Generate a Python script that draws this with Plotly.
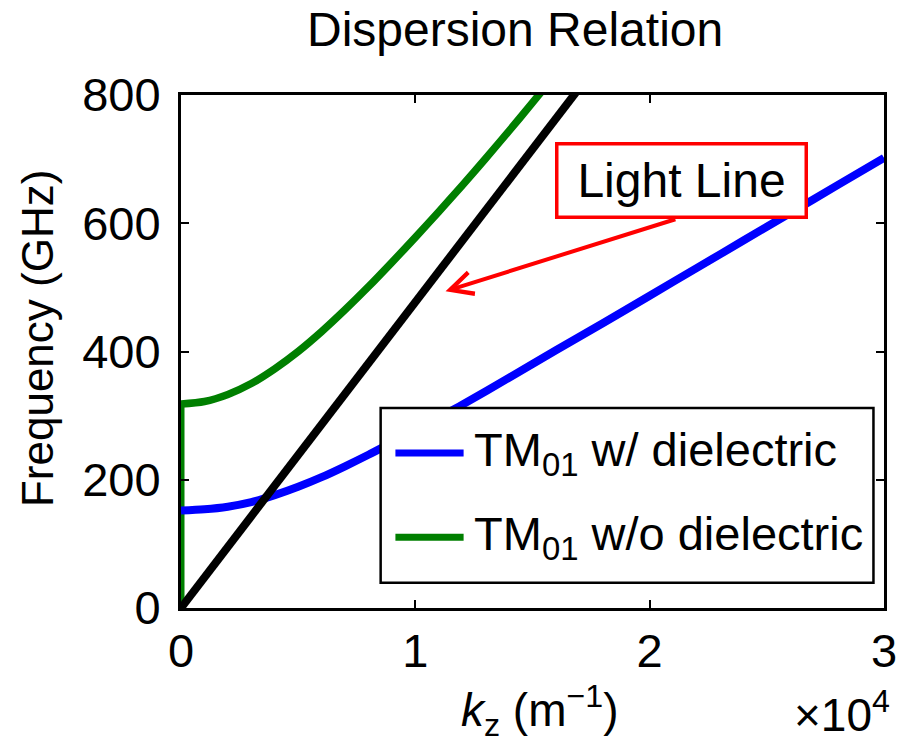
import plotly.graph_objects as go

# Wavenumber k_z in units of 1e4 m^-1, frequency in GHz
k_light = [0.0, 1.70]
f_light = [0.0, 811.0]

k_blue = [0.0, 0.1, 0.2, 0.3, 0.4, 0.5, 0.6, 0.7, 0.8, 0.9, 1.0, 1.1, 1.2,
          1.4, 1.6, 1.8, 2.0, 2.2, 2.4, 2.6, 2.8, 3.0]
f_blue = [152, 154, 158, 165, 176, 189, 204, 221, 239, 258, 277, 297, 317,
          359, 402, 444, 487, 530, 573, 616, 659, 702]

k_green_cutoff = [0.0, 0.0]
f_green_cutoff = [0, 318]
k_green = [0.0, 0.1, 0.2, 0.3, 0.4, 0.5, 0.6, 0.7, 0.8, 0.9, 1.0, 1.1,
           1.2, 1.3, 1.4, 1.5, 1.56]
f_green = [318, 322, 333, 350, 373, 400, 431, 465, 501, 539, 578, 618,
           659, 701, 744, 788, 815]

legend_labels = ["TM<sub>01</sub> w/ dielectric", "TM<sub>01</sub> w/o dielectric"]
x_ticks = [0, 1, 2, 3]
y_ticks = [0, 200, 400, 600, 800]

BLUE = "#0000FF"
GREEN = "#007F00"
FONT = "Liberation Sans, Arial, Helvetica, sans-serif"

fig = go.Figure()
fig.add_trace(go.Scatter(x=k_green_cutoff, y=f_green_cutoff, mode="lines",
                         line=dict(color=GREEN, width=7), showlegend=False))
fig.add_trace(go.Scatter(x=k_green, y=f_green, mode="lines",
                         line=dict(color=GREEN, width=7.5, shape="spline", smoothing=0.8),
                         showlegend=False))
fig.add_trace(go.Scatter(x=k_blue, y=f_blue, mode="lines",
                         line=dict(color=BLUE, width=8, shape="spline", smoothing=0.8),
                         showlegend=False))
fig.add_trace(go.Scatter(x=k_light, y=f_light, mode="lines",
                         line=dict(color="black", width=8), showlegend=False))

axis_common = dict(
    showline=True, linecolor="black", linewidth=3, mirror="allticks",
    ticks="inside", ticklen=8, tickwidth=2, tickcolor="black",
    showgrid=False, zeroline=False,
    tickfont=dict(family=FONT, size=47, color="black"),
)
fig.update_xaxes(range=[0, 3], tickvals=x_ticks, ticktext=[str(v) for v in x_ticks],
                 **axis_common)
fig.update_yaxes(range=[0, 800], tickvals=y_ticks, ticktext=[str(v) for v in y_ticks],
                 ticklabelstandoff=8, **axis_common)

# Hand-built legend box with line samples
fig.add_shape(type="rect", xref="paper", yref="paper", x0=0.284, x1=0.985,
              y0=0.049, y1=0.390, line=dict(color="black", width=2.5),
              fillcolor="white", layer="above")
for yy, col in [(0.302, BLUE), (0.138, GREEN)]:
    fig.add_shape(type="line", xref="paper", yref="paper", x0=0.305, x1=0.402,
                  y0=yy, y1=yy, line=dict(color=col, width=7), layer="above")
for yy, txt in [(0.302, legend_labels[0]), (0.138, legend_labels[1])]:
    fig.add_annotation(xref="paper", yref="paper", x=0.414, y=yy, text=txt,
                       showarrow=False, xanchor="left", yanchor="middle",
                       font=dict(family=FONT, size=47, color="black"))

# Light line callout
fig.add_annotation(xref="paper", yref="paper", x=(688 - 181) / 712, y=(608 - 180) / 513,
                   text="Light Line", showarrow=False, xanchor="center", yanchor="middle",
                   font=dict(family=FONT, size=48, color="black"),
                   bgcolor="white", bordercolor="#FF0000", borderwidth=3.5,
                   borderpad=4, width=238, height=62)
fig.add_annotation(x=1.129, y=494, ax=2.116, ay=607, axref="x", ayref="y",
                   text="", showarrow=True, arrowhead=5, arrowsize=1.1,
                   arrowwidth=4, arrowcolor="#FF0000")

# Titles
fig.add_annotation(xref="paper", yref="paper", x=0.475, y=1.127, text="Dispersion Relation",
                   showarrow=False, xanchor="center", yanchor="middle",
                   font=dict(family=FONT, size=48, color="black"))
fig.add_annotation(xref="paper", yref="paper", x=0.511, y=-0.2,
                   text="<i>k</i><sub>z</sub> (m<sup>\u22121</sup>)",
                   showarrow=False, xanchor="center", yanchor="middle",
                   font=dict(family=FONT, size=46, color="black"))
fig.add_annotation(xref="paper", yref="paper", x=0.94, y=-0.203,
                   text="\u00d710<sup>4</sup>",
                   showarrow=False, xanchor="center", yanchor="middle",
                   font=dict(family=FONT, size=46, color="black"))
fig.add_annotation(xref="paper", yref="paper", x=-0.205, y=0.526,
                   text="Frequency (GHz)", textangle=-90,
                   showarrow=False, xanchor="center", yanchor="middle",
                   font=dict(family=FONT, size=44, color="black"))

fig.update_layout(
    width=909, height=744,
    margin=dict(l=181, r=16, t=95, b=136),
    paper_bgcolor="white", plot_bgcolor="white",
    showlegend=False,
)

fig.write_html("out.html")
